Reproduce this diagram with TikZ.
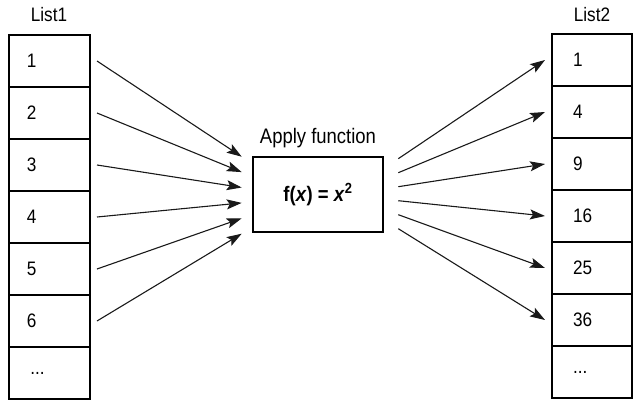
\documentclass[tikz,border=0pt]{standalone}
\usepackage{fontspec}
\setmainfont{Liberation Sans}[FakeStretch=0.88]
\usepackage{tikz}
\usetikzlibrary{positioning, arrows.meta, calc}

\begin{document}
\begin{tikzpicture}[
        x=1pt, y=-1pt,
        % Define styles
        lcell/.style={draw, line width=2.6pt, outer sep=0pt, minimum height=52pt, text width=45pt, inner xsep=18pt, inner ysep=0pt, align=left, font=\fontsize{19.5}{21}\selectfont},
        rcell/.style={draw, line width=2.6pt, outer sep=0pt, minimum height=52pt, text width=38pt, inner xsep=21pt, inner ysep=0pt, align=left, font=\fontsize{19.5}{21}\selectfont},
        fbox/.style={draw, line width=2.6pt, minimum width=130pt, minimum height=75pt, font=\fontsize{21}{23}\selectfont\bfseries},
        title/.style={font=\fontsize{19.5}{21}\selectfont},
        arrow/.style={-{Stealth[length=15pt, width=10pt, inset=3pt]}, line width=1.1pt, black!90}
    ]
    \useasboundingbox (0,0) rectangle (637,407);

    % 1. Input list
    \node[title] (lt) at (49, 15) {List1};
    \node[lcell] (a1) at (49.5, 61) {1};
    \node[lcell, below=0pt of a1] (a2) {2};
    \node[lcell, below=0pt of a2] (a3) {3};
    \node[lcell, below=0pt of a3] (a4) {4};
    \node[lcell, below=0pt of a4] (a5) {5};
    \node[lcell, below=0pt of a5] (a6) {6};
    \node[lcell, below=0pt of a6] (a7) {\,...};

    % 2. Function box
    \node[fbox] (f) at (318, 194.5) {f(\textit{x}) = \textit{x}\textsuperscript{2}};
    \node[font=\fontsize{21}{23}\selectfont, above=4pt of f] (ft) {Apply function};

    % 3. Output list
    \node[title] (rt) at (592, 15) {List2};
    \node[rcell] (b1) at (592, 60) {1};
    \node[rcell, below=0pt of b1] (b2) {4};
    \node[rcell, below=0pt of b2] (b3) {9};
    \node[rcell, below=0pt of b3] (b4) {16};
    \node[rcell, below=0pt of b4] (b5) {25};
    \node[rcell, below=0pt of b5] (b6) {36};
    \node[rcell, below=0pt of b6] (b7) {...};

    % Arrows into the function
    \foreach \i in {1,...,6}
        \draw[arrow] ([xshift=7pt]a\i.east) -- ($(f.north west)+(-10,{1+15.4*(\i-1)})$);

    % Arrows out of the function
    \foreach \i in {1,...,6}
        \draw[arrow] ($(f.north east)+(14,{3+14*(\i-1)})$) -- ([xshift=-7pt]b\i.west);

\end{tikzpicture}
\end{document}
